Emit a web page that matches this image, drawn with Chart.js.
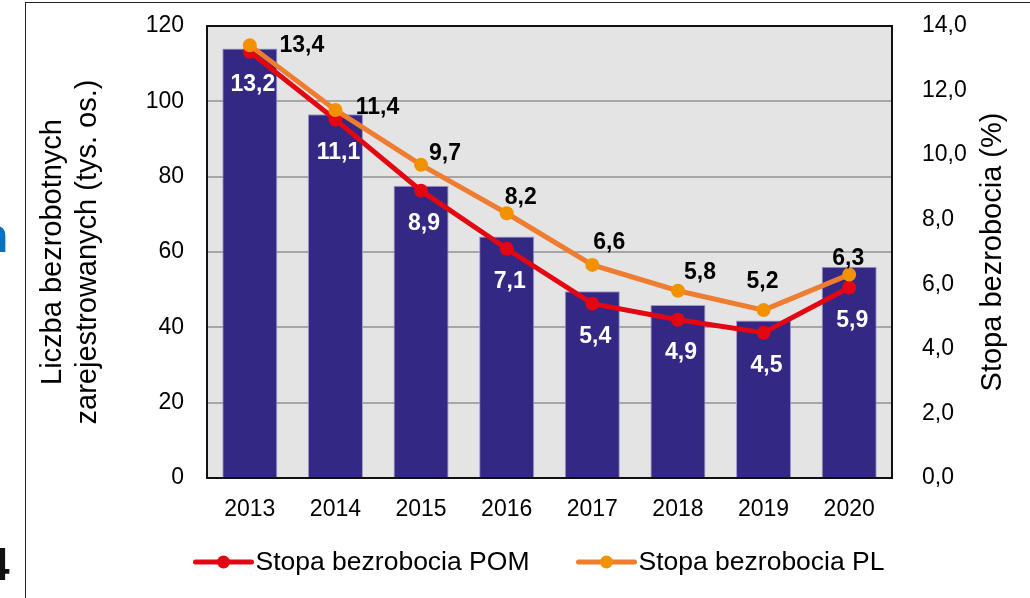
<!DOCTYPE html>
<html lang="pl">
<head>
  <meta charset="utf-8">
  <title>Bezrobocie 2013-2020</title>
  <script src="https://cdn.jsdelivr.net/npm/chart.js"></script>
  <style>
    html, body {
      margin: 0;
      padding: 0;
      background: #ffffff;
      overflow: hidden;
    }
    #wrap {
      position: relative;
      width: 1030px;
      height: 598px;
    }
    .frame {
      position: absolute;
      left: 25px;
      top: 2px;
      width: 1010px;
      height: 600px;
      border-left: 1.5px solid #222;
      border-top: 1.5px solid #222;
      pointer-events: none;
    }
    .cut {
      position: absolute;
      font-family: "Liberation Sans", Arial, sans-serif;
      font-weight: bold;
      line-height: 1;
    }
  </style>
</head>
<body>
  <div id="wrap">
    <canvas id="chart"></canvas>
    <div class="frame"></div>
    <span class="cut" style="left:-21px; top:212px; font-size:48px; color:#0a70c0;">n</span>
    <span class="cut" style="left:-16px; top:541px; font-size:46px; color:#111;">4</span>
  </div>

  <script>
    // data
    const years = ['2013', '2014', '2015', '2016', '2017', '2018', '2019', '2020'];
    const registered = [114.0, 96.6, 77.6, 64.1, 49.6, 45.9, 41.8, 56.1];   // tys. os.
    const ratePom = [13.2, 11.1, 8.9, 7.1, 5.4, 4.9, 4.5, 5.9];              // %
    const ratePl = [13.4, 11.4, 9.7, 8.2, 6.6, 5.8, 5.2, 6.3];               // %
    const leftTicks = [0, 20, 40, 60, 80, 100, 120];
    const rightTicks = [0, 2, 4, 6, 8, 10, 12, 14];

    // where the PL labels sit relative to their points (moved by hand in the original)
    const plLabelShift = [[52, 0], [42, -2], [24, -11], [14, -16], [17, -22], [22, -18], [-1, -28], [-1, -16]];

    const FONT = '"Liberation Sans", Arial, sans-serif';
    const fmt = v => v.toFixed(1).replace('.', ',');

    // fixed box sizes, no extra padding from tick labels
    const fixBox = (w, h) => scale => {
      if (w) scale.width = w;
      if (h) scale.height = h;
      scale.paddingTop = 0;
      scale.paddingBottom = 0;
      scale.paddingLeft = 0;
      scale.paddingRight = 0;
    };

    const bgPlugin = {
      id: 'plotBg',
      beforeDraw(chart) {
        const { ctx, chartArea: a } = chart;
        ctx.save();
        ctx.fillStyle = '#e4e4e4';
        ctx.fillRect(a.left, a.top, a.right - a.left, a.bottom - a.top);
        ctx.restore();
      }
    };

    const framePlugin = {
      id: 'plotFrame',
      afterDatasetsDraw(chart) {
        const { ctx, chartArea: a } = chart;
        ctx.save();
        ctx.strokeStyle = '#111';
        ctx.lineWidth = 2;
        ctx.strokeRect(a.left, a.top, a.right - a.left, a.bottom - a.top);
        ctx.restore();
      }
    };

    const valueLabels = {
      id: 'valueLabels',
      afterDatasetsDraw(chart) {
        const ctx = chart.ctx;
        ctx.save();
        ctx.font = 'bold 23px ' + FONT;
        ctx.textAlign = 'center';
        ctx.textBaseline = 'middle';

        chart.getDatasetMeta(1).data.forEach((pt, i) => {
          ctx.fillStyle = '#ffffff';
          ctx.fillText(fmt(ratePom[i]), pt.x + 3, pt.y + 33);
        });
        chart.getDatasetMeta(2).data.forEach((pt, i) => {
          ctx.fillStyle = '#000000';
          ctx.fillText(fmt(ratePl[i]), pt.x + plLabelShift[i][0], pt.y + plLabelShift[i][1]);
        });
        ctx.restore();
      }
    };

    const extras = {
      id: 'extras',
      afterDraw(chart) {
        const { ctx, chartArea: a } = chart;
        ctx.save();

        // right axis title, reading bottom to top
        ctx.translate(993, (a.top + a.bottom) / 2);
        ctx.rotate(-Math.PI / 2);
        ctx.font = '29px ' + FONT;
        ctx.fillStyle = '#000';
        ctx.textAlign = 'center';
        ctx.textBaseline = 'middle';
        ctx.fillText('Stopa bezrobocia (%)', 0, 0);
        ctx.restore();

        // legend: line with dot, only the two rate series
        ctx.save();
        ctx.font = '26.5px ' + FONT;
        ctx.textBaseline = 'middle';
        const items = [1, 2].map(i => chart.data.datasets[i]);
        const lineLen = 56, gap = 4, itemGap = 49;
        const widths = items.map(d => lineLen + gap + ctx.measureText(d.label).width);
        const total = widths.reduce((s, w) => s + w, 0) + itemGap;
        let x = 540 - total / 2;
        const y = 562;
        items.forEach((d, k) => {
          ctx.strokeStyle = d.borderColor;
          ctx.lineWidth = 5;
          ctx.lineCap = 'round';
          ctx.beginPath();
          ctx.moveTo(x, y);
          ctx.lineTo(x + lineLen, y);
          ctx.stroke();
          ctx.fillStyle = d.pointBackgroundColor;
          ctx.beginPath();
          ctx.arc(x + lineLen / 2, y, 6.5, 0, Math.PI * 2);
          ctx.fill();
          ctx.fillStyle = '#000';
          ctx.fillText(d.label, x + lineLen + gap, y + 1);
          x += widths[k] + itemGap;
        });
        ctx.restore();
      }
    };

    new Chart(document.getElementById('chart'), {
      data: {
        labels: years,
        datasets: [
          {
            type: 'bar',
            label: 'Liczba bezrobotnych',
            data: registered,
            yAxisID: 'y',
            backgroundColor: '#332883',
            borderColor: '#9c98c8',
            borderWidth: 1,
            barPercentage: 0.643,
            categoryPercentage: 1.0,
            order: 3
          },
          {
            type: 'line',
            label: 'Stopa bezrobocia POM',
            data: ratePom,
            yAxisID: 'y1',
            borderColor: '#e30613',
            backgroundColor: '#e30613',
            pointBackgroundColor: '#e30613',
            pointBorderWidth: 0,
            pointRadius: 7,
            borderWidth: 5,
            tension: 0,
            order: 2
          },
          {
            type: 'line',
            label: 'Stopa bezrobocia PL',
            data: ratePl,
            yAxisID: 'y1',
            borderColor: '#ef7d31',
            backgroundColor: '#ef7d31',
            pointBackgroundColor: '#f39200',
            pointBorderWidth: 0,
            pointRadius: 7,
            borderWidth: 5,
            tension: 0,
            order: 1
          }
        ]
      },
      options: {
        responsive: true,
        maintainAspectRatio: false,
        animation: false,
        layout: { padding: { top: 26, left: 0, right: 0, bottom: 0 }, autoPadding: false },
        plugins: {
          legend: { display: false },
          tooltip: { enabled: false }
        },
        scales: {
          x: {
            grid: { display: false },
            border: { display: false },
            ticks: { color: '#000', font: { family: FONT, size: 23 }, padding: 10, maxRotation: 0 },
            afterFit: fixBox(0, 120)
          },
          y: {
            position: 'left',
            min: 0,
            max: 120,
            afterBuildTicks(scale) { scale.ticks = leftTicks.map(v => ({ value: v })); },
            grid: { color: '#a6a6a6', lineWidth: 2, drawTicks: false },
            border: { display: false },
            ticks: { color: '#000', font: { family: FONT, size: 23 }, padding: 23 },
            title: {
              display: true,
              text: ['Liczba bezrobotnych', 'zarejestrowanych (tys. os.)'],
              color: '#000',
              font: { family: FONT, size: 29, lineHeight: 1.2 },
              padding: { top: 35.6, bottom: 0 }
            },
            afterFit: fixBox(207, 0)
          },
          y1: {
            position: 'right',
            min: 0,
            max: 14,
            afterBuildTicks(scale) { scale.ticks = rightTicks.map(v => ({ value: v })); },
            grid: { display: false, drawTicks: false },
            border: { display: false },
            ticks: { color: '#000', font: { family: FONT, size: 23 }, padding: 30, callback: v => fmt(v) },
            afterFit: fixBox(138, 0)
          }
        }
      },
      plugins: [bgPlugin, framePlugin, valueLabels, extras]
    });
  </script>
</body>
</html>
